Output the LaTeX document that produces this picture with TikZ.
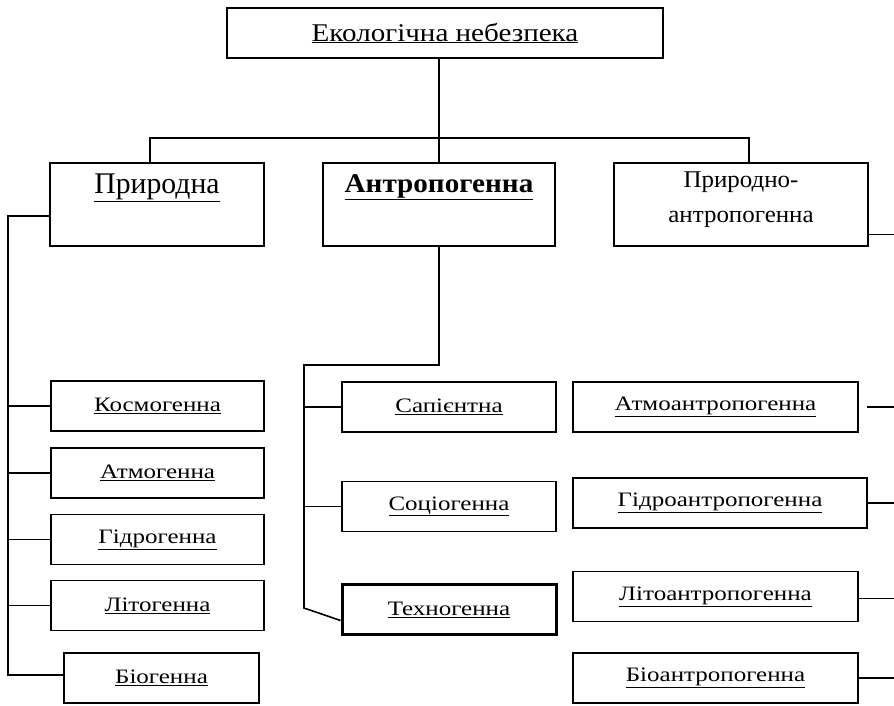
\documentclass[tikz,border=0pt]{standalone}
\usepackage{fontspec}
\setmainfont{Liberation Serif}
\newfontfamily\wideserif[FakeStretch=1.22]{Liberation Serif}
\newfontfamily\topserif[FakeStretch=1.14]{Liberation Serif}
\newfontfamily\tallserif[FakeStretch=0.99]{Liberation Serif}
\newfontfamily\boldserif[FakeStretch=1.08]{Liberation Serif}
\newfontfamily\midserif[FakeStretch=1.04]{Liberation Serif}
\usetikzlibrary{positioning}

\begin{document}
\begin{tikzpicture}[x=1pt,y=-1pt,line width=1.6pt,
    box/.style={draw,line width=1.6pt,minimum height=50pt,inner sep=0pt,
      font=\wideserif\fontsize{20.5}{24}\selectfont},
    bigbox/.style={draw,line width=1.6pt,minimum height=83pt,inner sep=0pt}]
  \useasboundingbox (0,0) rectangle (894,706);

  % top level
  \node[draw,line width=1.6pt,minimum width=436pt,minimum height=50pt,
    font=\topserif\fontsize{25.5}{30}\selectfont] (eko) at (445,33)
    {\underline{Екологічна небезпека}};

  \node[bigbox,minimum width=214pt,
    label={[anchor=base,inner sep=0pt,yshift=-31pt,font=\tallserif\fontsize{30}{34}\selectfont]north:\underline{Природна}}]
    (pryr) at (157,204.5) {};
  \node[bigbox,minimum width=232pt,
    label={[anchor=base,inner sep=0pt,yshift=-30pt,font=\boldserif\bfseries\fontsize{27}{30}\selectfont]north:\underline{Антропогенна}}]
    (antr) at (439,204.5) {};
  \node[bigbox,minimum width=254pt,
    label={[anchor=base,inner sep=0pt,yshift=-60pt,align=center,font=\midserif\fontsize{24}{35}\selectfont]north:Природно-\\антропогенна}]
    (pran) at (741,204.5) {};

  % left column
  \node[box,minimum width=213pt] (kosm) at (157.5,406) {\underline{Космогенна}};
  \node[box,minimum width=213pt] (atmo) at (157.5,473) {\underline{Атмогенна}};
  \node[box,minimum width=213pt] (gidr) at (157.5,539.5) {\underline{Гідрогенна}};
  \node[box,minimum width=213pt] (lito) at (157.5,605.5) {\underline{Літогенна}};
  \node[box,minimum width=195pt] (bioh) at (161.5,678) {\underline{Біогенна}};

  % middle column
  \node[box,minimum width=214pt] (sapi) at (449,407) {\underline{Сапієнтна}};
  \node[box,minimum width=214pt] (soci) at (449,506.5) {\underline{Соціогенна}};
  \node[box,minimum width=214pt,line width=3pt] (tekh) at (449,609.5) {\underline{Техногенна}};

  % right column
  \node[box,minimum width=285pt] (atan) at (715.5,407) {\underline{Атмоантропогенна}};
  \node[box,minimum width=294pt] (gian) at (720,503) {\underline{Гідроантропогенна}};
  \node[box,minimum width=285pt] (lian) at (715.5,596.5) {\underline{Літоантропогенна}};
  \node[box,minimum width=285pt] (bian) at (715.5,678) {\underline{Біоантропогенна}};

  % trunks
  \coordinate (busl) at (150,138);
  \coordinate (busr) at (749,138);
  \coordinate (ltop) at (8,216);
  \coordinate (lbot) at (8,675);
  \coordinate (mtop) at (304,365);
  \coordinate (mbot) at (304,608);
  \coordinate (redge) at (894,0);

  \draw (eko.south -| antr.north) -- (antr.north);
  \draw (busl |- pryr.north) -- (busl) -- (busr) -- (busr |- pran.north);

  \draw (pryr.west |- ltop) -- (ltop) -- (lbot) -- (bioh.west |- lbot);
  \draw (kosm.west) -- (kosm.west -| ltop);
  \draw (atmo.west) -- (atmo.west -| ltop);
  \draw (gidr.west) -- (gidr.west -| ltop);
  \draw (lito.west) -- (lito.west -| ltop);

  \draw (antr.south) -- (antr.south |- mtop) -- (mtop) -- (mbot) -- ([yshift=-11pt]tekh.west);
  \draw (sapi.west) -- (sapi.west -| mtop);
  \draw (soci.west) -- (soci.west -| mtop);

  \draw ([yshift=-30pt]pran.east) -- ([yshift=-30pt]pran.east -| redge);
  \draw ([xshift=8pt]atan.east) -- (atan.east -| redge);
  \draw (gian.east) -- (gian.east -| redge);
  \draw ([yshift=-2pt]lian.east) -- ([yshift=-2pt]lian.east -| redge);
  \draw (bian.east) -- (bian.east -| redge);
\end{tikzpicture}
\end{document}
